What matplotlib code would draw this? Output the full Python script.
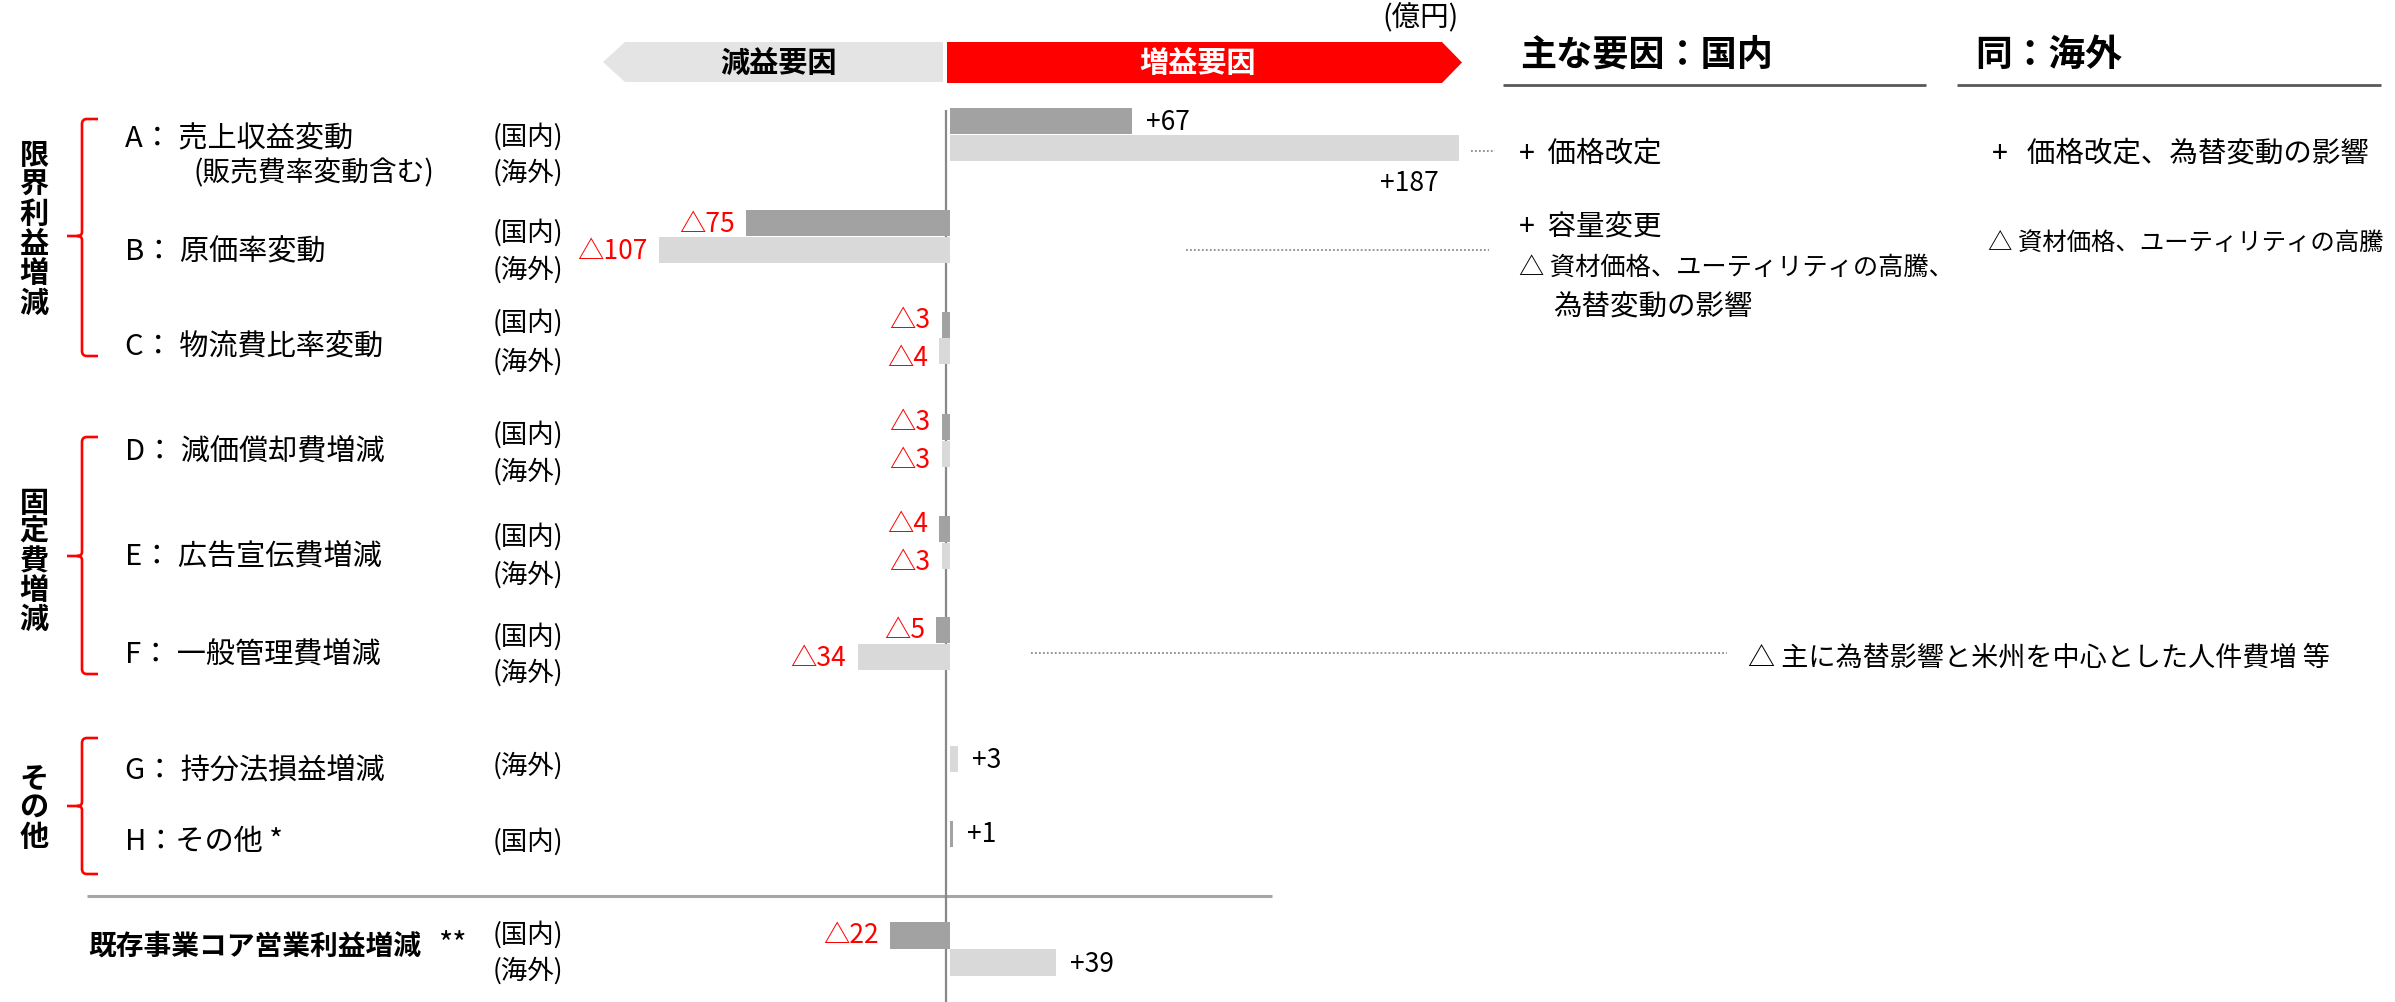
import matplotlib
matplotlib.use("Agg")
import matplotlib.pyplot as plt
from matplotlib.path import Path
from matplotlib.patches import PathPatch, Polygon

plt.rcParams['font.family'] = ['Noto Sans CJK JP', 'DejaVu Sans']

# ---------------- data ----------------
item_labels = ["A： 売上収益変動", "B： 原価率変動", "C： 物流費比率変動", "D： 減価償却費増減",
               "E： 広告宣伝費増減", "F： 一般管理費増減", "G： 持分法損益増減", "H：その他 *"]
item_note = "(販売費率変動含む)"
domestic = [67, -75, -3, -3, -4, -5, None, 1]
overseas = [187, -107, -4, -3, -3, -34, 3, None]
total_label = "既存事業コア営業利益増減"
total_mark = "**"
total_domestic = -22
total_overseas = 39
group_labels = ["限界利益増減", "固定費増減", "その他"]
region_dom = "(国内)"
region_ovs = "(海外)"
header_neg = "減益要因"
header_pos = "増益要因"
unit_label = "(億円)"
dom_header = "主な要因：国内"
ovs_header = "同：海外"
dom_notes = ["+  価格改定", "+  容量変更", "△ 資材価格、ユーティリティの高騰、", "為替変動の影響"]
ovs_notes = ["+   価格改定、為替変動の影響", "△ 資材価格、ユーティリティの高騰"]
f_note = "△ 主に為替影響と米州を中心とした人件費増 等"

# ---------------- layout (pixels) ----------------
W, H = 2395, 1003
ZERO_PX = 950          # where bars start
AXIS_LINE_PX = 946     # drawn vertical reference line
PX_PER_UNIT = 2.72
BAR_H = 26.5
dom_bar_y = [122, 224, 326, 428, 530, 631, None, 835]
ovs_bar_y = [149, 251, 352, 455, 557, 658, 760, None]
total_bar_y = (936.5, 963.5)
label_y = [139, 252, 347, 452, 557, 655, 770, 842]
dom_lab_y = [137, 233, 323, 435, 537, 637, None, 842]
ovs_lab_y = [173, 270, 362, 472, 575, 673, 766, None]

DOM_COLOR = "#A2A2A2"
OVS_COLOR = "#D9D9D9"
RED = "#FF0000"

fig = plt.figure(figsize=(W / 100, H / 100), dpi=100)
lay = fig.add_axes([0, 0, 1, 1])
lay.set_xlim(0, W)
lay.set_ylim(H, 0)
lay.axis("off")

ax = fig.add_axes([0, 0, 1, 1])
ax.set_xlim(-ZERO_PX / PX_PER_UNIT, (W - ZERO_PX) / PX_PER_UNIT)
ax.set_ylim(H, 0)
ax.axis("off")
ax.patch.set_alpha(0)

VAL_FS = 19
LAB_FS = 21
REG_FS = 19
NOTE_FS = 20.5


def value_label(val, y, big=False, dy=0):
    if val < 0:
        ax.annotate("△" + str(abs(val)), xy=(val, y + dy), xytext=(-8, 0),
                    textcoords="offset points", ha="right", va="center",
                    color=RED, fontsize=VAL_FS)
    elif big:
        ax.annotate("+" + str(val), xy=(val, y + 34), xytext=(-14, 0),
                    textcoords="offset points", ha="right", va="center",
                    color="black", fontsize=VAL_FS)
    else:
        ax.annotate("+" + str(val), xy=(val, y + dy), xytext=(10, 0),
                    textcoords="offset points", ha="left", va="center",
                    color="black", fontsize=VAL_FS)


max_val = max(v for v in overseas + domestic if v is not None)

# bars
for i in range(len(item_labels)):
    d, o = domestic[i], overseas[i]
    small = d is not None and o is not None and abs(d) < 10 and abs(o) < 10
    if d is not None:
        ax.barh(dom_bar_y[i], d, height=BAR_H, left=0, color=DOM_COLOR, zorder=2)
        value_label(d, dom_bar_y[i], dy=-6 if small else 0)
    if o is not None:
        ax.barh(ovs_bar_y[i], o, height=BAR_H, left=0, color=OVS_COLOR, zorder=2)
        value_label(o, ovs_bar_y[i], big=(o == max_val), dy=6 if small else 0)

ax.barh(total_bar_y[0], total_domestic, height=BAR_H, left=0, color=DOM_COLOR, zorder=2)
ax.barh(total_bar_y[1], total_overseas, height=BAR_H, left=0, color=OVS_COLOR, zorder=2)
value_label(total_domestic, total_bar_y[0], dy=-1)
value_label(total_overseas, total_bar_y[1], dy=1)

# vertical reference line
lay.vlines(AXIS_LINE_PX, 111, H, color="#888888", lw=1.6, zorder=5)

# separator
lay.hlines(897, 87, 1272, color="#A6A6A6", lw=2.2)

# left labels
for i, lab in enumerate(item_labels):
    lay.text(125, label_y[i], lab, fontsize=LAB_FS, va="center", ha="left")
    if dom_lab_y[i] is not None:
        lay.text(493, dom_lab_y[i], region_dom, fontsize=REG_FS, va="center", ha="left")
    if ovs_lab_y[i] is not None:
        lay.text(493, ovs_lab_y[i], region_ovs, fontsize=REG_FS, va="center", ha="left")
lay.text(193, 173, item_note, fontsize=20, va="center", ha="left")

lay.text(88, 947, total_label, fontsize=20, fontweight="bold", va="center", ha="left")
lay.text(438, 945, total_mark, fontsize=22, va="center", ha="left")
lay.text(493, 935, region_dom, fontsize=REG_FS, va="center", ha="left")
lay.text(493, 971, region_ovs, fontsize=REG_FS, va="center", ha="left")

# group labels (vertical) + brackets
group_centers = [229, 561, 808]
group_pitch = [29.6, 29, 29]
brackets = [(120, 237, 357), (438, 557, 675), (739, 807, 875)]
for g, lab in enumerate(group_labels):
    n = len(lab)
    for k, ch in enumerate(lab):
        yy = group_centers[g] + (k - (n - 1) / 2) * group_pitch[g]
        lay.text(34, yy, ch, fontsize=21, fontweight="bold", va="center", ha="center")
    top, mid, bot = brackets[g]
    xl, xh, xt, r = 82, 98, 67, 5
    verts = [(xh, top), (xl + r, top), (xl, top), (xl, top + r),
             (xl, mid - 4), (xl, mid), (xl - 5, mid), (xt, mid),
             (xl - 5, mid), (xl, mid), (xl, mid + 4),
             (xl, bot - r), (xl, bot), (xl + r, bot), (xh, bot)]
    codes = [Path.MOVETO, Path.LINETO, Path.CURVE3, Path.CURVE3,
             Path.LINETO, Path.CURVE3, Path.CURVE3, Path.LINETO,
             Path.MOVETO, Path.CURVE3, Path.CURVE3,
             Path.LINETO, Path.CURVE3, Path.CURVE3, Path.LINETO]
    lay.add_patch(PathPatch(Path(verts, codes), fill=False, edgecolor=RED, lw=1.9))

# header arrows
lay.add_patch(Polygon([(625, 43), (943, 43), (943, 83), (625, 83), (603, 63)],
                      closed=True, facecolor="#E4E4E4", edgecolor="none"))
lay.add_patch(Polygon([(947, 43), (1442, 43), (1462, 63.5), (1442, 84), (947, 84)],
                      closed=True, facecolor=RED, edgecolor="none"))
lay.text(778, 63, header_neg, fontsize=21, fontweight="bold", ha="center", va="center")
lay.text(1198, 63, header_pos, fontsize=21, fontweight="bold", ha="center", va="center",
         color="white")
lay.text(1459, 18, unit_label, fontsize=20.5, ha="right", va="center")

# right headers
lay.text(1520, 55, dom_header, fontsize=26, fontweight="bold", ha="left", va="center")
lay.text(1975, 55, ovs_header, fontsize=26.5, fontweight="bold", ha="left", va="center")
lay.hlines(86, 1503, 1926, color="#595959", lw=2)
lay.hlines(86, 1957, 2381, color="#595959", lw=2)

# notes
lay.text(1519, 153, dom_notes[0], fontsize=NOTE_FS, ha="left", va="center")
lay.text(1519, 228, dom_notes[1], fontsize=NOTE_FS, ha="left", va="center")
lay.text(1519, 268, dom_notes[2], fontsize=18.2, ha="left", va="center")
lay.text(1553, 308, dom_notes[3], fontsize=NOTE_FS, ha="left", va="center")
lay.text(1992, 153, ovs_notes[0], fontsize=NOTE_FS, ha="left", va="center")
lay.text(1988, 243, ovs_notes[1], fontsize=17.6, ha="left", va="center")
lay.text(1748, 658, f_note, fontsize=19.5, ha="left", va="center")

# dotted leader lines
dot = dict(color="#8C8C8C", lw=1.3, linestyle=(0, (1, 1.2)))
lay.hlines(152, 1471, 1495, **dot)
lay.hlines(251, 1186, 1489, **dot)
lay.hlines(654, 1031, 1727, **dot)

fig.savefig("out.png", dpi=100, facecolor="white")
